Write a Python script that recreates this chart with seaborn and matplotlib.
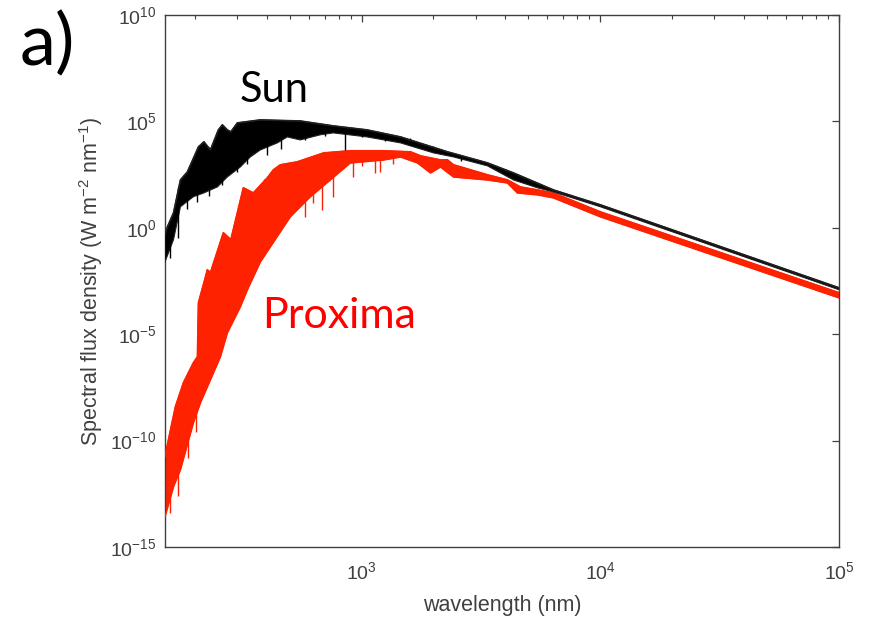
import numpy as np
import matplotlib
matplotlib.use("Agg")
import matplotlib.pyplot as plt
import seaborn as sns
from matplotlib.ticker import LogFormatterSciNotation, NullLocator, FixedLocator, LogLocator

# ---- data (wavelength in nm, flux as log10 W m^-2 nm^-1)
sun_upper_wl = [150, 153.6, 162.8, 174.1, 186.2, 207.1, 218.3, 232.5, 251.0, 260.9, 273.7,
                283.1, 301.5, 376.3, 553.3, 760.2, 1055, 1456, 2290, 3367, 4325, 6358,
                10000, 100000]
sun_upper_log = [-0.33, 0.05, 0.70, 2.25, 2.63, 3.80, 4.04, 3.66, 4.60, 4.84, 4.60, 4.51,
                 4.93, 5.07, 5.02, 4.79, 4.60, 4.27, 3.57, 3.05, 2.58, 1.78, 1.08, -2.82]
sun_lower_wl = [150, 162.8, 174.1, 197.3, 218.3, 248.6, 273.7, 310.3, 341.7, 376.3, 443.3,
                488.1, 553.3, 670.7, 760.2, 1055, 1456, 2001, 2427, 3367, 4325, 5451, 6358,
                10000, 100000]
sun_lower_log = [-1.60, -0.56, 0.99, 1.46, 1.64, 1.92, 2.39, 2.86, 3.33, 3.66, 3.99, 4.27,
                 4.13, 4.37, 4.46, 4.27, 3.99, 3.52, 3.33, 2.91, 2.25, 1.88, 1.69, 0.99,
                 -2.91]

prox_upper_wl = [150, 155.1, 165.9, 179.2, 197.3, 205.1, 207.1, 218.3, 225.8, 232.5, 263.4,
                 283.1, 319.4, 351.7, 402.5, 426.5, 456.3, 537.5, 693.5, 895.7, 1236, 1603,
                 1766, 2141, 2290, 2427, 3367, 4083, 4628, 5451, 6358, 10000, 100000]
prox_upper_log = [-10.75, -9.95, -8.40, -7.28, -6.34, -6.06, -3.52, -2.58, -1.97, -2.11,
                  -0.23, -0.56, 1.88, 1.64, 2.35, 2.72, 2.96, 3.10, 3.52, 3.62, 3.62, 3.57,
                  3.38, 3.19, 3.19, 2.96, 2.49, 2.25, 1.92, 1.78, 1.64, 0.75, -3.05]
prox_lower_wl = [150, 162.8, 174.1, 197.3, 211.1, 255.9, 273.7, 310.3, 331.9, 376.3, 502.4,
                 609.1, 738.6, 895.7, 1236, 1456, 1715, 1944, 2141, 2427, 3367, 4083, 4495,
                 5451, 6358, 10000, 100000]
prox_lower_log = [-13.57, -12.16, -11.36, -9.15, -8.22, -6.06, -4.93, -3.71, -2.91, -1.60,
                  0.52, 1.46, 2.25, 3.05, 3.19, 3.33, 3.05, 2.58, 2.86, 2.39, 2.25, 2.11,
                  1.64, 1.55, 1.41, 0.52, -3.29]

# absorption spikes (wavelength, top, bottom) in log10 flux
sun_spike_wl = [158, 170, 185, 205, 230, 260, 300, 330, 400, 460,
                580, 700, 853, 1000, 1250, 1600, 2000, 2600]
sun_spike_top = [0.3, 1.9, 2.5, 3.7, 3.8, 4.7, 4.9, 5.0, 5.05, 5.05,
                 4.98, 4.85, 4.70, 4.62, 4.45, 4.20, 3.85, 3.40]
sun_spike_bot = [-1.4, -0.5, 0.9, 1.2, 1.5, 2.0, 2.6, 3.0, 3.4, 3.7,
                 4.13, 4.30, 3.66, 4.25, 4.10, 3.90, 3.55, 3.15]

prox_spike_wl = [157, 170, 188, 202, 240, 265, 300, 345, 390, 430, 480, 520,
                 580, 627, 684, 760, 922, 1000, 1139, 1196, 1350]
prox_spike_top = [-10.3, -8.9, -6.9, -6.2, -2.0, -0.3, 0.5, 1.7, 2.3, 2.7, 3.0, 3.1,
                  3.19, 3.30, 3.45, 3.52, 3.62, 3.62, 3.62, 3.62, 3.62]
prox_spike_bot = [-13.4, -12.6, -10.8, -9.6, -6.2, -5.0, -3.6, -2.2, -0.8, 0.2, 0.8, 1.2,
                  0.52, 1.17, 0.85, 1.46, 2.39, 2.90, 2.58, 2.63, 3.00]

x_ticks = [1e3, 1e4, 1e5]
y_ticks = [1e-15, 1e-10, 1e-5, 1e0, 1e5, 1e10]

SUN_C = "#000000"
PROX_C = "#ff2200"
AX_C = "#404040"

sns.set_theme(style="white")
plt.rcParams["font.family"] = ["Liberation Sans", "DejaVu Sans"]
plt.rcParams["axes.unicode_minus"] = False
plt.rcParams["mathtext.default"] = "regular"

fig = plt.figure(figsize=(8.78, 6.23), dpi=100)
ax = fig.add_axes([165 / 878, 1 - 547 / 623, (839 - 165) / 878, (547 - 15) / 623])
ax.set_xscale("log")
ax.set_yscale("log")


def band(ax, uw, ul, lw, ll, color, edge, z):
    xs = np.r_[uw, lw[::-1]]
    ys = 10.0 ** np.r_[ul, ll[::-1]]
    ax.fill(xs, ys, facecolor=color, edgecolor=edge, linewidth=0.8, zorder=z)


band(ax, np.array(prox_upper_wl), np.array(prox_upper_log),
     np.array(prox_lower_wl), np.array(prox_lower_log), PROX_C, PROX_C, 2)
ax.vlines(prox_spike_wl, 10.0 ** np.array(prox_spike_bot), 10.0 ** np.array(prox_spike_top),
          color=PROX_C, lw=1.0, zorder=2)
sns.lineplot(x=prox_upper_wl, y=10.0 ** np.array(prox_upper_log), color=PROX_C, lw=1.2,
             ax=ax, zorder=3, estimator=None, sort=False)
sns.lineplot(x=prox_lower_wl, y=10.0 ** np.array(prox_lower_log), color=PROX_C, lw=1.2,
             ax=ax, zorder=3, estimator=None, sort=False)

band(ax, np.array(sun_upper_wl), np.array(sun_upper_log),
     np.array(sun_lower_wl), np.array(sun_lower_log), SUN_C, "#202020", 4)
ax.vlines(sun_spike_wl, 10.0 ** np.array(sun_spike_bot), 10.0 ** np.array(sun_spike_top),
          color=SUN_C, lw=1.0, zorder=4)
sns.lineplot(x=sun_upper_wl, y=10.0 ** np.array(sun_upper_log), color="#202020", lw=1.2,
             ax=ax, zorder=4, estimator=None, sort=False)

ax.set_xlim(150, 1e5)
ax.set_ylim(1e-15, 1e10)
ax.xaxis.set_major_locator(FixedLocator(x_ticks))
ax.xaxis.set_minor_locator(LogLocator(base=10, subs=np.arange(2, 10), numticks=20))
ax.yaxis.set_major_locator(FixedLocator(y_ticks))
ax.yaxis.set_minor_locator(NullLocator())
ax.xaxis.set_major_formatter(LogFormatterSciNotation())
ax.yaxis.set_major_formatter(LogFormatterSciNotation())

ax.tick_params(which="both", direction="in", top=True, right=True, colors=AX_C,
               labelsize=14, labelcolor=AX_C)
ax.tick_params(which="major", length=5, width=0.9)
ax.tick_params(which="minor", length=3, width=0.8)
ax.tick_params(axis="x", which="major", pad=10)
ax.tick_params(axis="y", which="major", pad=6)
for s in ax.spines.values():
    s.set_color(AX_C)
    s.set_linewidth(1.0)
ax.grid(False)

ax.set_xlabel("wavelength (nm)", fontsize=15.5, color=AX_C, labelpad=9)
ax.set_ylabel("Spectral flux density (W m$^{-2}$ nm$^{-1}$)", fontsize=15.5, color=AX_C,
              labelpad=4)

fig.text(20 / 878, 1 - 65 / 623, "a)", fontsize=52, family=["Lato", "DejaVu Sans"],
         color="black", va="baseline", ha="left")
fig.text(240 / 878, 1 - 102 / 623, "Sun", fontsize=30, family=["Lato", "DejaVu Sans"],
         color="black", va="baseline", ha="left")
fig.text(262 / 878, 1 - 328 / 623, "Proxima", fontsize=31, family=["Lato", "DejaVu Sans"],
         color="#ff0000", va="baseline", ha="left")

fig.savefig("out.png", dpi=100)
